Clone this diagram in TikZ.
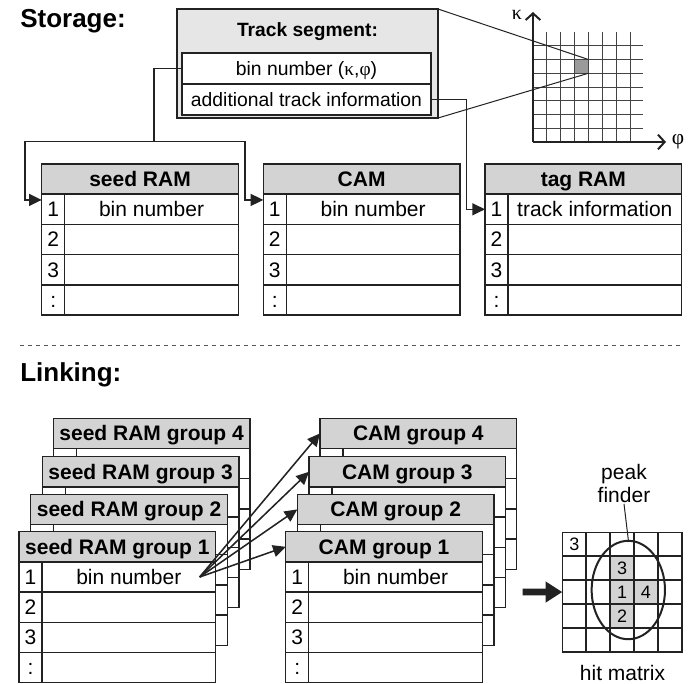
\documentclass[tikz,border=0pt]{standalone}
\usepackage{fontspec}
\setmainfont{Liberation Sans}
\newfontfamily\greekserif{Liberation Serif}
\usetikzlibrary{arrows.meta,calc,shapes.geometric}
\definecolor{ink}{HTML}{222222}
\definecolor{hdrgrey}{HTML}{D3D3D3}
\definecolor{boxgrey}{HTML}{E6E6E6}
\definecolor{cellgrey}{HTML}{9A9A9A}
\definecolor{dashgrey}{HTML}{555555}
\tikzset{
  cellbase/.style={draw=ink, line width=1.15pt, outer sep=0pt, inner sep=0pt, fill=white,
    minimum height=22.65pt, text height=11.3pt, text depth=0.3pt,
    font=\fontsize{15.75}{18}\selectfont},
  hdr/.style={cellbase, fill=hdrgrey, minimum width=147.5pt,
    font=\bfseries\fontsize{15.75}{18}\selectfont},
  numc/.style={cellbase, minimum width=17.25pt},
  datc/.style={cellbase, minimum width=130.25pt},
  tsrow/.style={cellbase, minimum width=186.75pt, minimum height=23.25pt,
    text height=10.4pt, font=\fontsize{14.5}{17}\selectfont},
  conn/.style={draw=ink, line width=1.15pt, -{Triangle[length=9.5pt,width=9pt]}},
  thinl/.style={draw=ink, line width=0.75pt},
  gridl/.style={draw=ink!85, line width=0.75pt},
  axisl/.style={draw=ink, line width=1.5pt, -{Straight Barb[length=5pt,width=11pt]}},
  hml/.style={draw=ink, line width=1.15pt},
  hnum/.style={inner sep=0pt, font=\fontsize{13.5}{15}\selectfont},
  title/.style={font=\bfseries\fontsize{19.5}{22}\selectfont, anchor=base west, inner sep=0pt},
  plain/.style={font=\fontsize{15.75}{17.25}\selectfont, align=center}
}
% table with header, numbered rows (front tables)
\newcommand\memtab[5]{%
  \node[hdr,anchor=north west] (#1-h) at (#2,#3) {#4};
  \node[numc,anchor=north west] (#1-n1) at (#1-h.south west) {1};
  \node[datc,anchor=north west] (#1-d1) at (#1-n1.north east) {#5};
  \node[numc,anchor=north west] (#1-n2) at (#1-n1.south west) {2};
  \node[datc,anchor=north west] (#1-d2) at (#1-n2.north east) {};
  \node[numc,anchor=north west] (#1-n3) at (#1-n2.south west) {3};
  \node[datc,anchor=north west] (#1-d3) at (#1-n3.north east) {};
  \node[numc,anchor=north west] (#1-n4) at (#1-n3.south west) {:};
  \node[datc,anchor=north west] (#1-d4) at (#1-n4.north east) {};
}
% table partly hidden behind another one (its row numbers are never visible)
\newcommand\backtab[4]{%
  \node[hdr,anchor=north west] (#1-h) at (#2,#3) {#4};
  \node[numc,anchor=north west] (#1-n1) at (#1-h.south west) {};
  \node[datc,anchor=north west] (#1-d1) at (#1-n1.north east) {};
  \node[numc,anchor=north west] (#1-n2) at (#1-n1.south west) {};
  \node[datc,anchor=north west] (#1-d2) at (#1-n2.north east) {};
  \node[numc,anchor=north west] (#1-n3) at (#1-n2.south west) {};
  \node[datc,anchor=north west] (#1-d3) at (#1-n3.north east) {};
  \node[numc,anchor=north west] (#1-n4) at (#1-n3.south west) {};
  \node[datc,anchor=north west] (#1-d4) at (#1-n4.north east) {};
}
\begin{document}
\begin{tikzpicture}[x=0.75pt,y=-0.75pt]
\useasboundingbox (0,0) rectangle (700,683);

% ---------- Storage ----------
\node[title] (storage) at (20,27.7) {Storage:};

% track segment box
\node[draw=ink, line width=1.15pt, fill=boxgrey, minimum width=195.75pt, minimum height=81.75pt,
      anchor=north west, outer sep=0pt, inner sep=0pt] (ts) at (177,9) {};
\node[font=\bfseries\fontsize{14.4}{16}\selectfont, anchor=base, inner sep=0pt] (tstitle) at (307.5,36.7) {Track segment:};
\node[tsrow, anchor=north west] (tsr1) at (182,53) {bin number ({\greekserif κ},{\greekserif φ})};
\node[tsrow, anchor=north west] (tsr2) at (tsr1.south west) {additional track information};

% kappa-phi grid
\fill[cellgrey] (574.6,59.5) rectangle (588.4,73.25);
\foreach \i in {1,...,7} \draw[gridl] ({533+13.86*\i},32) -- ({533+13.86*\i},142);
\foreach \j in {1,...,7} \draw[gridl] (533,{142-13.75*\j}) -- (642.7,{142-13.75*\j});
\coordinate (origin) at (533,142);
\coordinate (ktop) at (533,12);
\coordinate (pright) at (666,142);
\draw[axisl] (origin) -- (ktop);
\draw[axisl] (origin) -- (pright);
\node[font=\greekserif\fontsize{15}{18}\selectfont, inner sep=0pt] (kappa) at (517,15) {κ};
\node[font=\greekserif\fontsize{16}{18}\selectfont, inner sep=0pt] (phi) at (678,142) {φ};
\coordinate (cellne) at (588.4,59.5);
\coordinate (cellse) at (588.4,73.25);
\draw[thinl] (ts.north east) -- (cellne);
\draw[thinl] (ts.south east) -- (cellse);

% memory tables
\memtab{seed}{41.7}{164}{seed RAM}{bin number}
\memtab{cam}{263.3}{164}{CAM}{bin number}
\memtab{tag}{485}{164}{tag RAM}{track information}

% connectors
\coordinate (j1) at (154,141.7);
\coordinate (lc) at (25,141.7);
\coordinate (rc) at (245,141.7);
\coordinate (tc) at (466.7,150);
\draw[conn] (tsr1.west) -| (j1) -- (lc) |- ([yshift=-4.3pt]seed-n1.north west);
\draw[conn] (j1) -- (rc) |- ([yshift=-4.3pt]cam-n1.north west);
\draw[conn] (tsr2.east) -| (tc) |- (tag-n1.west);

% separator
\draw[dashgrey, line width=0.75pt, dash pattern=on 3pt off 3pt] (20,345) -- (682,345);

% ---------- Linking ----------
\node[title] (linking) at (20,381.7) {Linking:};

\backtab{sg4}{53.3}{418.3}{seed RAM group 4}
\backtab{sg3}{42.3}{456.7}{seed RAM group 3}
\backtab{sg2}{30.7}{494.3}{seed RAM group 2}
\memtab{sg1}{19}{531.7}{seed RAM group 1}{bin number}

\backtab{cg4}{320}{418.3}{CAM group 4}
\backtab{cg3}{309}{456.7}{CAM group 3}
\backtab{cg2}{297.3}{494.3}{CAM group 2}
\memtab{cg1}{285.7}{531.7}{CAM group 1}{bin number}

\coordinate (src) at ([xshift=-12pt]sg1-d1.east);
\draw[conn] (src) -- (cg1-h.west);
\draw[conn] (src) -- (cg2-h.west);
\draw[conn] (src) -- (cg3-h.west);
\draw[conn] (src) -- (cg4-h.west);

% hit matrix
\fill[hdrgrey] (610.1,556.2) rectangle (634.0,627.9);
\fill[hdrgrey] (634.0,580.1) rectangle (657.9,604.0);
\node[draw=ink, line width=1.15pt, minimum width=89.6pt, minimum height=89.6pt, inner sep=0pt,
      outer sep=0pt, anchor=north west] (hm) at (562.3,532.3) {};
\foreach \k in {1,...,4} {
  \draw[hml] ({562.3+23.9*\k},532.3) -- ({562.3+23.9*\k},651.8);
  \draw[hml] (562.3,{532.3+23.9*\k}) -- (681.8,{532.3+23.9*\k});
}
\node[hnum] (h1) at (574.25,544.25) {3};
\node[hnum] (h2) at (622.05,568.15) {3};
\node[hnum] (h3) at (622.05,592.05) {1};
\node[hnum] (h4) at (645.95,592.05) {4};
\node[hnum] (h5) at (622.05,615.95) {2};
\node[draw=ink, line width=1.5pt, ellipse, minimum width=55pt, minimum height=73.8pt,
      inner sep=0pt] (pf) at (628.3,590) {};
\node[plain, inner sep=1pt] (pflabel) at (624,483) {peak\\finder};
\draw[thinl] (pflabel.south) -- (pf.north);
\node[plain] (hmlabel) at (622.5,673) {hit matrix};
\coordinate (ta) at (522.7,592);
\draw[draw=ink, line width=5pt, -{Triangle[length=12.5pt,width=15pt]}] (ta) -- (hm.west);
\end{tikzpicture}
\end{document}
